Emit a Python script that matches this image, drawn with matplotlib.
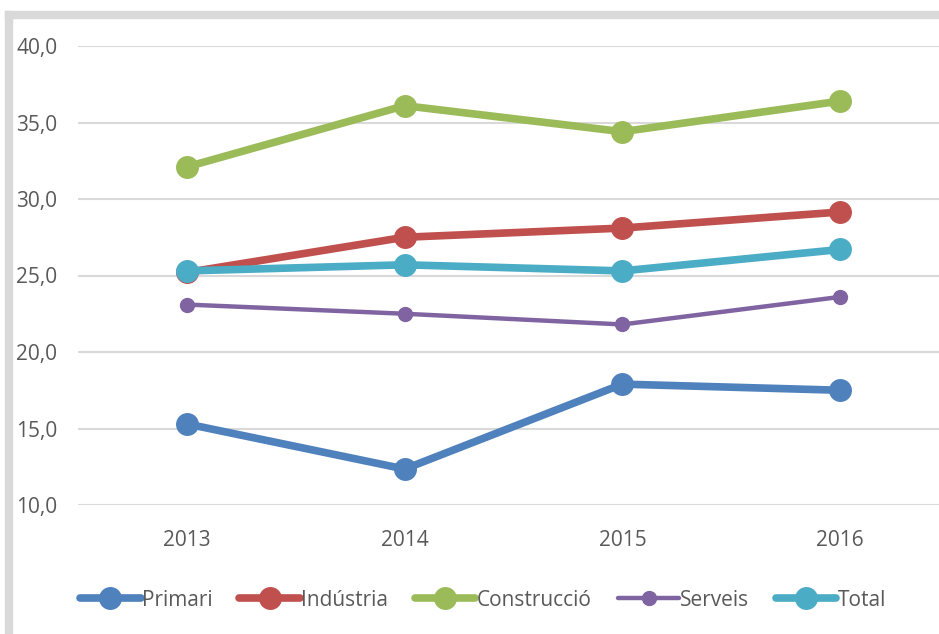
import matplotlib.pyplot as plt
from matplotlib.patches import Rectangle

# chart data
years = ['2013', '2014', '2015', '2016']
primari = [15.3, 12.35, 17.9, 17.5]
industria = [25.2, 27.5, 28.1, 29.15]
construccio = [32.1, 36.1, 34.4, 36.4]
serveis = [23.1, 22.5, 21.8, 23.6]
total = [25.3, 25.7, 25.3, 26.7]
y_ticks = [10, 15, 20, 25, 30, 35, 40]

series = [
    ('Primari', primari, '#4F81BD', 5.5, 15.5),
    ('Indústria', industria, '#C0504D', 5.5, 15.5),
    ('Construcció', construccio, '#9BBB59', 5.5, 15.5),
    ('Serveis', serveis, '#8064A2', 3.2, 10),
    ('Total', total, '#4BACC6', 5.5, 15.5),
]

plt.rcParams['font.family'] = ['Open Sans', 'DejaVu Sans']

fig = plt.figure(figsize=(9.39, 6.34), dpi=100)
W, H = 939, 634

# grey frame of the embedded chart (cut off at right and bottom)
fig.patches.append(Rectangle((5 / W, 0), 7 / W, (H - 11) / H, transform=fig.transFigure,
                             color='#d9d9d9', zorder=0))
fig.patches.append(Rectangle((5 / W, (H - 18) / H), 1, 7 / H, transform=fig.transFigure,
                             color='#d9d9d9', zorder=0))

ax = fig.add_axes([78 / W, (H - 505) / H, 871 / W, 459 / H])
x = range(len(years))
for name, vals, col, lw, ms in series:
    ax.plot(x, vals, color=col, lw=lw, marker='o', ms=ms, label=name,
            solid_capstyle='round', clip_on=False, zorder=3)

ax.set_xlim(-0.5, 3.5)
ax.set_ylim(10, 40)
ax.set_yticks(y_ticks)
ax.set_yticklabels([f'{v:.1f}'.replace('.', ',') for v in y_ticks])
ax.set_xticks(list(x))
ax.set_xticklabels(years)
ax.grid(axis='y', color='#d9d9d9', lw=1.5)
ax.set_axisbelow(True)
for pos in ['right', 'top', 'bottom', 'left']:
    ax.spines[pos].set_visible(False)
ax.tick_params(axis='both', length=0, labelsize=15, labelcolor='#595959')
ax.tick_params(axis='y', pad=15)
ax.tick_params(axis='x', pad=18)

fig.legend(loc='center', bbox_to_anchor=(483 / W, 34 / H), ncol=5, frameon=False,
           fontsize=15, labelcolor='#595959', handlelength=2.9, handletextpad=0.05,
           columnspacing=1.3)

plt.savefig('out.png', dpi=100)
